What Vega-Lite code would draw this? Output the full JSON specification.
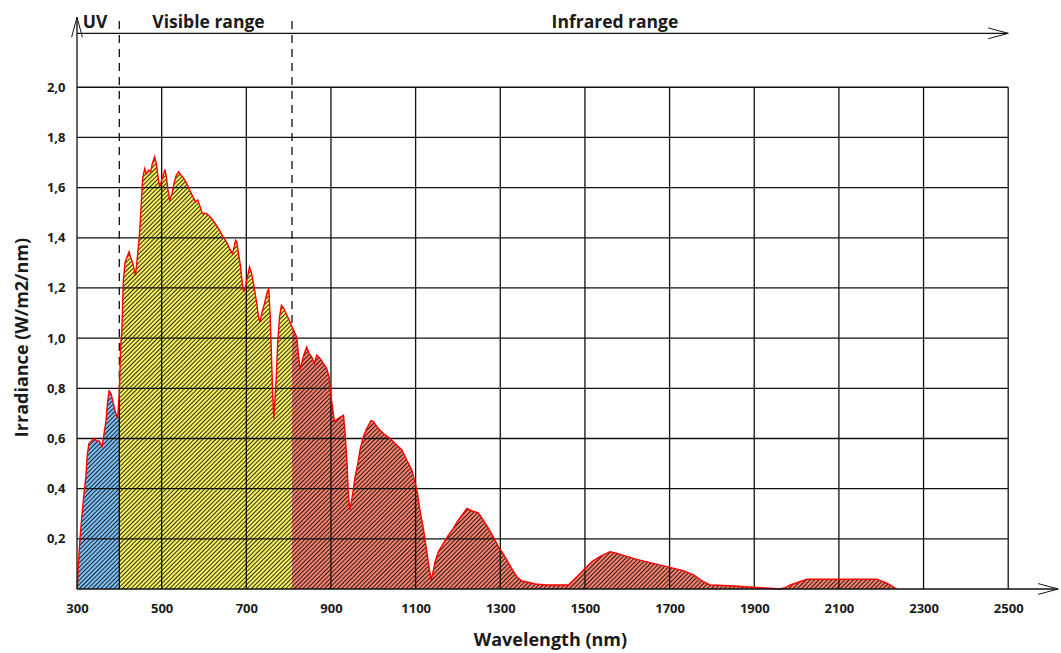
{
"$schema":"https://vega.github.io/schema/vega-lite/v6.json",
"width":982,"height":577,"autosize":"none",
"padding":{"left":77,"top":12,"right":2,"bottom":64},
"background":"white",
"config":{"view":{"stroke":null},
 "axis":{"domain":false,"ticks":false,"tickSize":0,"grid":false,"labelFont":"Open Sans","labelFontSize":13,"labelFontWeight":"bold","labelColor":"#1a1a1a","titleFont":"Open Sans","titleFontSize":18,"titleFontWeight":"bold","titleColor":"#1a1a1a","labelOverlap":false},
 "axisX":{"labelPadding":13,"labelFlush":false},
 "axisY":{"labelPadding":12}},
"datasets":{"spec":[
{"wl":300,"irr":0,"r":"uv"},{"wl":301,"irr":0.02,"r":"uv"},{"wl":303,"irr":0.09,"r":"uv"},{"wl":307,"irr":0.2,"r":"uv"},{"wl":312,"irr":0.3,"r":"uv"},{"wl":316.5,"irr":0.38,"r":"uv"},{"wl":321,"irr":0.45,"r":"uv"},{"wl":324,"irr":0.53,"r":"uv"},{"wl":328,"irr":0.58,"r":"uv"},{"wl":334.5,"irr":0.59,"r":"uv"},{"wl":340,"irr":0.6,"r":"uv"},{"wl":346.5,"irr":0.59,"r":"uv"},{"wl":352.5,"irr":0.59,"r":"uv"},{"wl":359,"irr":0.567,"r":"uv"},{"wl":364,"irr":0.62,"r":"uv"},{"wl":368.5,"irr":0.67,"r":"uv"},{"wl":372.5,"irr":0.75,"r":"uv"},{"wl":376,"irr":0.79,"r":"uv"},{"wl":380,"irr":0.78,"r":"uv"},{"wl":384.5,"irr":0.75,"r":"uv"},{"wl":390,"irr":0.71,"r":"uv"},{"wl":396,"irr":0.68,"r":"uv"},{"wl":400,"irr":0.78,"r":"uv"},
{"wl":400,"irr":0.78,"r":"vis"},{"wl":403,"irr":0.965,"r":"vis"},{"wl":406,"irr":1.03,"r":"vis"},{"wl":409.5,"irr":1.23,"r":"vis"},{"wl":413.5,"irr":1.3,"r":"vis"},{"wl":417.5,"irr":1.32,"r":"vis"},{"wl":423,"irr":1.344,"r":"vis"},{"wl":427,"irr":1.32,"r":"vis"},{"wl":431.5,"irr":1.3,"r":"vis"},{"wl":438,"irr":1.25,"r":"vis"},{"wl":442.5,"irr":1.32,"r":"vis"},{"wl":447,"irr":1.4,"r":"vis"},{"wl":451,"irr":1.51,"r":"vis"},{"wl":455,"irr":1.636,"r":"vis"},{"wl":460,"irr":1.676,"r":"vis"},{"wl":464,"irr":1.656,"r":"vis"},{"wl":469.5,"irr":1.67,"r":"vis"},{"wl":474,"irr":1.663,"r":"vis"},{"wl":478,"irr":1.696,"r":"vis"},{"wl":483.5,"irr":1.723,"r":"vis"},{"wl":487.5,"irr":1.696,"r":"vis"},{"wl":491.5,"irr":1.643,"r":"vis"},{"wl":495.5,"irr":1.603,"r":"vis"},{"wl":500,"irr":1.63,"r":"vis"},{"wl":505,"irr":1.656,"r":"vis"},{"wl":508,"irr":1.672,"r":"vis"},{"wl":511,"irr":1.643,"r":"vis"},{"wl":515,"irr":1.59,"r":"vis"},{"wl":519,"irr":1.55,"r":"vis"},{"wl":524.5,"irr":1.576,"r":"vis"},{"wl":529,"irr":1.616,"r":"vis"},{"wl":534.5,"irr":1.649,"r":"vis"},{"wl":540,"irr":1.663,"r":"vis"},{"wl":546.5,"irr":1.649,"r":"vis"},{"wl":552.5,"irr":1.636,"r":"vis"},{"wl":559.5,"irr":1.616,"r":"vis"},{"wl":566,"irr":1.59,"r":"vis"},{"wl":574,"irr":1.563,"r":"vis"},{"wl":580,"irr":1.543,"r":"vis"},{"wl":585.5,"irr":1.55,"r":"vis"},{"wl":589.5,"irr":1.53,"r":"vis"},{"wl":596,"irr":1.497,"r":"vis"},{"wl":605.5,"irr":1.497,"r":"vis"},{"wl":613,"irr":1.486,"r":"vis"},{"wl":621,"irr":1.47,"r":"vis"},{"wl":629,"irr":1.45,"r":"vis"},{"wl":637,"irr":1.43,"r":"vis"},{"wl":645,"irr":1.404,"r":"vis"},{"wl":653,"irr":1.384,"r":"vis"},{"wl":660.5,"irr":1.357,"r":"vis"},{"wl":667,"irr":1.337,"r":"vis"},{"wl":670.5,"irr":1.357,"r":"vis"},{"wl":674.5,"irr":1.39,"r":"vis"},{"wl":677.5,"irr":1.384,"r":"vis"},{"wl":681.5,"irr":1.337,"r":"vis"},{"wl":686.5,"irr":1.284,"r":"vis"},{"wl":690.5,"irr":1.218,"r":"vis"},{"wl":694,"irr":1.185,"r":"vis"},{"wl":698,"irr":1.205,"r":"vis"},{"wl":702,"irr":1.238,"r":"vis"},{"wl":707.5,"irr":1.284,"r":"vis"},{"wl":712.5,"irr":1.258,"r":"vis"},{"wl":717,"irr":1.218,"r":"vis"},{"wl":723.5,"irr":1.151,"r":"vis"},{"wl":729,"irr":1.085,"r":"vis"},{"wl":732,"irr":1.065,"r":"vis"},{"wl":737.5,"irr":1.105,"r":"vis"},{"wl":743,"irr":1.138,"r":"vis"},{"wl":748.5,"irr":1.178,"r":"vis"},{"wl":753,"irr":1.198,"r":"vis"},{"wl":756.5,"irr":1.085,"r":"vis"},{"wl":759.5,"irr":0.925,"r":"vis"},{"wl":762.5,"irr":0.766,"r":"vis"},{"wl":765,"irr":0.68,"r":"vis"},{"wl":767,"irr":0.74,"r":"vis"},{"wl":770.5,"irr":0.833,"r":"vis"},{"wl":774.5,"irr":0.992,"r":"vis"},{"wl":778.5,"irr":1.085,"r":"vis"},{"wl":783,"irr":1.131,"r":"vis"},{"wl":788.5,"irr":1.118,"r":"vis"},{"wl":794,"irr":1.098,"r":"vis"},{"wl":799.5,"irr":1.078,"r":"vis"},{"wl":804,"irr":1.061,"r":"vis"},{"wl":808,"irr":1.045,"r":"vis"},
{"wl":808,"irr":1.045,"r":"ir"},{"wl":819,"irr":1.005,"r":"ir"},{"wl":823,"irr":0.939,"r":"ir"},{"wl":827,"irr":0.873,"r":"ir"},{"wl":832.5,"irr":0.912,"r":"ir"},{"wl":837,"irr":0.939,"r":"ir"},{"wl":843,"irr":0.965,"r":"ir"},{"wl":848,"irr":0.939,"r":"ir"},{"wl":854.5,"irr":0.925,"r":"ir"},{"wl":861,"irr":0.899,"r":"ir"},{"wl":866.5,"irr":0.932,"r":"ir"},{"wl":874,"irr":0.919,"r":"ir"},{"wl":882,"irr":0.899,"r":"ir"},{"wl":890,"irr":0.879,"r":"ir"},{"wl":895.5,"irr":0.846,"r":"ir"},{"wl":898,"irr":0.793,"r":"ir"},{"wl":903.5,"irr":0.726,"r":"ir"},{"wl":908,"irr":0.667,"r":"ir"},{"wl":917.5,"irr":0.68,"r":"ir"},{"wl":929.5,"irr":0.693,"r":"ir"},{"wl":933.5,"irr":0.62,"r":"ir"},{"wl":938,"irr":0.5,"r":"ir"},{"wl":941,"irr":0.381,"r":"ir"},{"wl":944.5,"irr":0.315,"r":"ir"},{"wl":947.5,"irr":0.341,"r":"ir"},{"wl":951.5,"irr":0.381,"r":"ir"},{"wl":957,"irr":0.447,"r":"ir"},{"wl":963.5,"irr":0.5,"r":"ir"},{"wl":968.5,"irr":0.554,"r":"ir"},{"wl":976.5,"irr":0.607,"r":"ir"},{"wl":984.5,"irr":0.64,"r":"ir"},{"wl":994.5,"irr":0.671,"r":"ir"},{"wl":1000,"irr":0.667,"r":"ir"},{"wl":1012,"irr":0.64,"r":"ir"},{"wl":1024,"irr":0.62,"r":"ir"},{"wl":1039.5,"irr":0.6,"r":"ir"},{"wl":1055.5,"irr":0.574,"r":"ir"},{"wl":1067.5,"irr":0.554,"r":"ir"},{"wl":1079,"irr":0.514,"r":"ir"},{"wl":1091,"irr":0.474,"r":"ir"},{"wl":1098.5,"irr":0.427,"r":"ir"},{"wl":1104.5,"irr":0.381,"r":"ir"},{"wl":1110.5,"irr":0.31,"r":"ir"},{"wl":1117.5,"irr":0.25,"r":"ir"},{"wl":1124.5,"irr":0.17,"r":"ir"},{"wl":1130.5,"irr":0.1,"r":"ir"},{"wl":1136.5,"irr":0.036,"r":"ir"},{"wl":1140.5,"irr":0.063,"r":"ir"},{"wl":1146,"irr":0.109,"r":"ir"},{"wl":1154,"irr":0.149,"r":"ir"},{"wl":1165.5,"irr":0.182,"r":"ir"},{"wl":1177.5,"irr":0.215,"r":"ir"},{"wl":1189,"irr":0.242,"r":"ir"},{"wl":1201,"irr":0.275,"r":"ir"},{"wl":1213,"irr":0.302,"r":"ir"},{"wl":1221,"irr":0.321,"r":"ir"},{"wl":1232.5,"irr":0.312,"r":"ir"},{"wl":1248,"irr":0.304,"r":"ir"},{"wl":1260,"irr":0.275,"r":"ir"},{"wl":1272,"irr":0.242,"r":"ir"},{"wl":1283.5,"irr":0.208,"r":"ir"},{"wl":1295.5,"irr":0.169,"r":"ir"},{"wl":1303.5,"irr":0.149,"r":"ir"},{"wl":1315.5,"irr":0.116,"r":"ir"},{"wl":1327,"irr":0.082,"r":"ir"},{"wl":1339,"irr":0.049,"r":"ir"},{"wl":1351,"irr":0.032,"r":"ir"},{"wl":1366.5,"irr":0.027,"r":"ir"},{"wl":1382.5,"irr":0.02,"r":"ir"},{"wl":1410,"irr":0.016,"r":"ir"},{"wl":1461,"irr":0.016,"r":"ir"},{"wl":1481,"irr":0.049,"r":"ir"},{"wl":1500.5,"irr":0.082,"r":"ir"},{"wl":1516.5,"irr":0.109,"r":"ir"},{"wl":1536,"irr":0.13,"r":"ir"},{"wl":1559.5,"irr":0.149,"r":"ir"},{"wl":1575.5,"irr":0.142,"r":"ir"},{"wl":1622.5,"irr":0.118,"r":"ir"},{"wl":1654,"irr":0.105,"r":"ir"},{"wl":1693.5,"irr":0.089,"r":"ir"},{"wl":1732.5,"irr":0.073,"r":"ir"},{"wl":1756.5,"irr":0.056,"r":"ir"},{"wl":1780,"irr":0.029,"r":"ir"},{"wl":1796,"irr":0.016,"r":"ir"},{"wl":1843,"irr":0.013,"r":"ir"},{"wl":1898,"irr":0.007,"r":"ir"},{"wl":1961,"irr":0,"r":"ir"},{"wl":1973,"irr":0.005,"r":"ir"},{"wl":1985,"irr":0.016,"r":"ir"},{"wl":2024.5,"irr":0.039,"r":"ir"},{"wl":2189.5,"irr":0.039,"r":"ir"},{"wl":2213.5,"irr":0.023,"r":"ir"},{"wl":2237,"irr":0,"r":"ir"}
]},
"layer":[
{"data":{"values":[{"d":400},{"d":808}]},"mark":{"type":"rule","strokeDash":[8,6],"color":"#111","strokeWidth":1.3},
 "encoding":{"x":{"field":"d","type":"quantitative"},"y":{"datum":0,"type":"quantitative"},"y2":{"datum":2.28}}},
{"data":{"name":"spec"},"mark":{"type":"area","opacity":1},
 "encoding":{
  "x":{"field":"wl","type":"quantitative","scale":{"domain":[300,2620],"nice":false,"zero":false},
   "axis":{"values":[300,500,700,900,1100,1300,1500,1700,1900,2100,2300,2500],"format":"d","domain":false,"ticks":false,"grid":false,"labelPadding":13,
    "title":"Wavelength (nm)","titleX":473,"titleY":56,"titleBaseline":"alphabetic","titleAlign":"center"}},
  "y":{"field":"irr","type":"quantitative","stack":null,"scale":{"domain":[0,2.3],"nice":false,"zero":false},
   "axis":{"values":[0.2,0.4,0.6,0.8,1.0,1.2,1.4,1.6,1.8,2.0],"domain":false,"ticks":false,"grid":false,"labelPadding":12,"labelExpr":"replace(format(datum.value,'.1f'),'.',',')",
    "title":"Irradiance (W/m2/nm)","titleX":-50,"titleY":325,"titleAngle":-90,"titleBaseline":"alphabetic","titleAlign":"center"}},
  "color":{"field":"r","type":"nominal","scale":{"domain":["uv","vis","ir"],"range":["#7fbff5","#f7f264","#f4826f"]},"legend":null}}},
{"data":{"name":"spec"},"mark":{"type":"area","fillOpacity":0.8,"fill":{"gradient":"linear","x1":0,"y1":0,"x2":1.36774,"y2":0.72098,"stops":[
{"offset":0,"color":"#000"},{"offset":0.001,"color":"transparent"},{"offset":0.002,"color":"transparent"},{"offset":0.003,"color":"#000"},{"offset":0.004,"color":"transparent"},{"offset":0.005,"color":"transparent"},{"offset":0.006,"color":"#000"},{"offset":0.007,"color":"transparent"},{"offset":0.008,"color":"transparent"},{"offset":0.009,"color":"#000"},{"offset":0.01,"color":"transparent"},{"offset":0.011,"color":"transparent"},{"offset":0.012,"color":"#000"},{"offset":0.013,"color":"transparent"},{"offset":0.014,"color":"transparent"},{"offset":0.015,"color":"#000"},{"offset":0.016,"color":"transparent"},{"offset":0.017,"color":"transparent"},{"offset":0.018,"color":"#000"},{"offset":0.019,"color":"transparent"},{"offset":0.02,"color":"transparent"},{"offset":0.021,"color":"#000"},{"offset":0.022,"color":"transparent"},{"offset":0.023,"color":"transparent"},{"offset":0.024,"color":"#000"},{"offset":0.025,"color":"transparent"},{"offset":0.026,"color":"transparent"},{"offset":0.027,"color":"#000"},{"offset":0.028,"color":"transparent"},{"offset":0.029,"color":"transparent"},
{"offset":0.03,"color":"#000"},{"offset":0.031,"color":"transparent"},{"offset":0.032,"color":"transparent"},{"offset":0.033,"color":"#000"},{"offset":0.034,"color":"transparent"},{"offset":0.035,"color":"transparent"},{"offset":0.036,"color":"#000"},{"offset":0.037,"color":"transparent"},{"offset":0.038,"color":"transparent"},{"offset":0.039,"color":"#000"},{"offset":0.04,"color":"transparent"},{"offset":0.041,"color":"transparent"},{"offset":0.042,"color":"#000"},{"offset":0.043,"color":"transparent"},{"offset":0.044,"color":"transparent"},{"offset":0.045,"color":"#000"},{"offset":0.046,"color":"transparent"},{"offset":0.047,"color":"transparent"},{"offset":0.048,"color":"#000"},{"offset":0.049,"color":"transparent"},{"offset":0.05,"color":"transparent"},{"offset":0.051,"color":"#000"},{"offset":0.052,"color":"transparent"},{"offset":0.053,"color":"transparent"},{"offset":0.054,"color":"#000"},{"offset":0.055,"color":"transparent"},{"offset":0.056,"color":"transparent"},{"offset":0.057,"color":"#000"},{"offset":0.058,"color":"transparent"},{"offset":0.059,"color":"transparent"},
{"offset":0.06,"color":"#000"},{"offset":0.061,"color":"transparent"},{"offset":0.062,"color":"transparent"},{"offset":0.063,"color":"#000"},{"offset":0.064,"color":"transparent"},{"offset":0.065,"color":"transparent"},{"offset":0.066,"color":"#000"},{"offset":0.067,"color":"transparent"},{"offset":0.068,"color":"transparent"},{"offset":0.069,"color":"#000"},{"offset":0.07,"color":"transparent"},{"offset":0.071,"color":"transparent"},{"offset":0.072,"color":"#000"},{"offset":0.073,"color":"transparent"},{"offset":0.074,"color":"transparent"},{"offset":0.075,"color":"#000"},{"offset":0.076,"color":"transparent"},{"offset":0.077,"color":"transparent"},{"offset":0.078,"color":"#000"},{"offset":0.079,"color":"transparent"},{"offset":0.08,"color":"transparent"},{"offset":0.081,"color":"#000"},{"offset":0.082,"color":"transparent"},{"offset":0.083,"color":"transparent"},{"offset":0.084,"color":"#000"},{"offset":0.085,"color":"transparent"},{"offset":0.086,"color":"transparent"},{"offset":0.087,"color":"#000"},{"offset":0.088,"color":"transparent"},{"offset":0.089,"color":"transparent"},
{"offset":0.09,"color":"#000"},{"offset":0.091,"color":"transparent"},{"offset":0.092,"color":"transparent"},{"offset":0.093,"color":"#000"},{"offset":0.094,"color":"transparent"},{"offset":0.095,"color":"transparent"},{"offset":0.096,"color":"#000"},{"offset":0.097,"color":"transparent"},{"offset":0.098,"color":"transparent"},{"offset":0.099,"color":"#000"},{"offset":0.1,"color":"transparent"},{"offset":0.101,"color":"transparent"},{"offset":0.102,"color":"#000"},{"offset":0.103,"color":"transparent"},{"offset":0.104,"color":"transparent"},{"offset":0.105,"color":"#000"},{"offset":0.106,"color":"transparent"},{"offset":0.107,"color":"transparent"},{"offset":0.108,"color":"#000"},{"offset":0.109,"color":"transparent"},{"offset":0.11,"color":"transparent"},{"offset":0.111,"color":"#000"},{"offset":0.112,"color":"transparent"},{"offset":0.113,"color":"transparent"},{"offset":0.114,"color":"#000"},{"offset":0.115,"color":"transparent"},{"offset":0.116,"color":"transparent"},{"offset":0.117,"color":"#000"},{"offset":0.118,"color":"transparent"},{"offset":0.119,"color":"transparent"},
{"offset":0.12,"color":"#000"},{"offset":0.121,"color":"transparent"},{"offset":0.122,"color":"transparent"},{"offset":0.123,"color":"#000"},{"offset":0.124,"color":"transparent"},{"offset":0.125,"color":"transparent"},{"offset":0.126,"color":"#000"},{"offset":0.127,"color":"transparent"},{"offset":0.128,"color":"transparent"},{"offset":0.129,"color":"#000"},{"offset":0.13,"color":"transparent"},{"offset":0.131,"color":"transparent"},{"offset":0.132,"color":"#000"},{"offset":0.133,"color":"transparent"},{"offset":0.134,"color":"transparent"},{"offset":0.135,"color":"#000"},{"offset":0.136,"color":"transparent"},{"offset":0.137,"color":"transparent"},{"offset":0.138,"color":"#000"},{"offset":0.139,"color":"transparent"},{"offset":0.14,"color":"transparent"},{"offset":0.141,"color":"#000"},{"offset":0.142,"color":"transparent"},{"offset":0.143,"color":"transparent"},{"offset":0.144,"color":"#000"},{"offset":0.145,"color":"transparent"},{"offset":0.146,"color":"transparent"},{"offset":0.147,"color":"#000"},{"offset":0.148,"color":"transparent"},{"offset":0.149,"color":"transparent"},
{"offset":0.15,"color":"#000"},{"offset":0.151,"color":"transparent"},{"offset":0.152,"color":"transparent"},{"offset":0.153,"color":"#000"},{"offset":0.154,"color":"transparent"},{"offset":0.155,"color":"transparent"},{"offset":0.156,"color":"#000"},{"offset":0.157,"color":"transparent"},{"offset":0.158,"color":"transparent"},{"offset":0.159,"color":"#000"},{"offset":0.16,"color":"transparent"},{"offset":0.161,"color":"transparent"},{"offset":0.162,"color":"#000"},{"offset":0.163,"color":"transparent"},{"offset":0.164,"color":"transparent"},{"offset":0.165,"color":"#000"},{"offset":0.166,"color":"transparent"},{"offset":0.167,"color":"transparent"},{"offset":0.168,"color":"#000"},{"offset":0.169,"color":"transparent"},{"offset":0.17,"color":"transparent"},{"offset":0.171,"color":"#000"},{"offset":0.172,"color":"transparent"},{"offset":0.173,"color":"transparent"},{"offset":0.174,"color":"#000"},{"offset":0.175,"color":"transparent"},{"offset":0.176,"color":"transparent"},{"offset":0.177,"color":"#000"},{"offset":0.178,"color":"transparent"},{"offset":0.179,"color":"transparent"},
{"offset":0.18,"color":"#000"},{"offset":0.181,"color":"transparent"},{"offset":0.182,"color":"transparent"},{"offset":0.183,"color":"#000"},{"offset":0.184,"color":"transparent"},{"offset":0.185,"color":"transparent"},{"offset":0.186,"color":"#000"},{"offset":0.187,"color":"transparent"},{"offset":0.188,"color":"transparent"},{"offset":0.189,"color":"#000"},{"offset":0.19,"color":"transparent"},{"offset":0.191,"color":"transparent"},{"offset":0.192,"color":"#000"},{"offset":0.193,"color":"transparent"},{"offset":0.194,"color":"transparent"},{"offset":0.195,"color":"#000"},{"offset":0.196,"color":"transparent"},{"offset":0.197,"color":"transparent"},{"offset":0.198,"color":"#000"},{"offset":0.199,"color":"transparent"},{"offset":0.2,"color":"transparent"},{"offset":0.201,"color":"#000"},{"offset":0.202,"color":"transparent"},{"offset":0.203,"color":"transparent"},{"offset":0.204,"color":"#000"},{"offset":0.205,"color":"transparent"},{"offset":0.206,"color":"transparent"},{"offset":0.207,"color":"#000"},{"offset":0.208,"color":"transparent"},{"offset":0.209,"color":"transparent"},
{"offset":0.21,"color":"#000"},{"offset":0.211,"color":"transparent"},{"offset":0.212,"color":"transparent"},{"offset":0.213,"color":"#000"},{"offset":0.214,"color":"transparent"},{"offset":0.215,"color":"transparent"},{"offset":0.216,"color":"#000"},{"offset":0.217,"color":"transparent"},{"offset":0.218,"color":"transparent"},{"offset":0.219,"color":"#000"},{"offset":0.22,"color":"transparent"},{"offset":0.221,"color":"transparent"},{"offset":0.222,"color":"#000"},{"offset":0.223,"color":"transparent"},{"offset":0.224,"color":"transparent"},{"offset":0.225,"color":"#000"},{"offset":0.226,"color":"transparent"},{"offset":0.227,"color":"transparent"},{"offset":0.228,"color":"#000"},{"offset":0.229,"color":"transparent"},{"offset":0.23,"color":"transparent"},{"offset":0.231,"color":"#000"},{"offset":0.232,"color":"transparent"},{"offset":0.233,"color":"transparent"},{"offset":0.234,"color":"#000"},{"offset":0.235,"color":"transparent"},{"offset":0.236,"color":"transparent"},{"offset":0.237,"color":"#000"},{"offset":0.238,"color":"transparent"},{"offset":0.239,"color":"transparent"},
{"offset":0.24,"color":"#000"},{"offset":0.241,"color":"transparent"},{"offset":0.242,"color":"transparent"},{"offset":0.243,"color":"#000"},{"offset":0.244,"color":"transparent"},{"offset":0.245,"color":"transparent"},{"offset":0.246,"color":"#000"},{"offset":0.247,"color":"transparent"},{"offset":0.248,"color":"transparent"},{"offset":0.249,"color":"#000"},{"offset":0.25,"color":"transparent"},{"offset":0.251,"color":"transparent"},{"offset":0.252,"color":"#000"},{"offset":0.253,"color":"transparent"},{"offset":0.254,"color":"transparent"},{"offset":0.255,"color":"#000"},{"offset":0.256,"color":"transparent"},{"offset":0.257,"color":"transparent"},{"offset":0.258,"color":"#000"},{"offset":0.259,"color":"transparent"},{"offset":0.26,"color":"transparent"},{"offset":0.261,"color":"#000"},{"offset":0.262,"color":"transparent"},{"offset":0.263,"color":"transparent"},{"offset":0.264,"color":"#000"},{"offset":0.265,"color":"transparent"},{"offset":0.266,"color":"transparent"},{"offset":0.267,"color":"#000"},{"offset":0.268,"color":"transparent"},{"offset":0.269,"color":"transparent"},
{"offset":0.27,"color":"#000"},{"offset":0.271,"color":"transparent"},{"offset":0.272,"color":"transparent"},{"offset":0.273,"color":"#000"},{"offset":0.274,"color":"transparent"},{"offset":0.275,"color":"transparent"},{"offset":0.276,"color":"#000"},{"offset":0.277,"color":"transparent"},{"offset":0.278,"color":"transparent"},{"offset":0.279,"color":"#000"},{"offset":0.28,"color":"transparent"},{"offset":0.281,"color":"transparent"},{"offset":0.282,"color":"#000"},{"offset":0.283,"color":"transparent"},{"offset":0.284,"color":"transparent"},{"offset":0.285,"color":"#000"},{"offset":0.286,"color":"transparent"},{"offset":0.287,"color":"transparent"},{"offset":0.288,"color":"#000"},{"offset":0.289,"color":"transparent"},{"offset":0.29,"color":"transparent"},{"offset":0.291,"color":"#000"},{"offset":0.292,"color":"transparent"},{"offset":0.293,"color":"transparent"},{"offset":0.294,"color":"#000"},{"offset":0.295,"color":"transparent"},{"offset":0.296,"color":"transparent"},{"offset":0.297,"color":"#000"},{"offset":0.298,"color":"transparent"},{"offset":0.299,"color":"transparent"},
{"offset":0.3,"color":"#000"},{"offset":0.301,"color":"transparent"},{"offset":0.302,"color":"transparent"},{"offset":0.303,"color":"#000"},{"offset":0.304,"color":"transparent"},{"offset":0.305,"color":"transparent"},{"offset":0.306,"color":"#000"},{"offset":0.307,"color":"transparent"},{"offset":0.308,"color":"transparent"},{"offset":0.309,"color":"#000"},{"offset":0.31,"color":"transparent"},{"offset":0.311,"color":"transparent"},{"offset":0.312,"color":"#000"},{"offset":0.313,"color":"transparent"},{"offset":0.314,"color":"transparent"},{"offset":0.315,"color":"#000"},{"offset":0.316,"color":"transparent"},{"offset":0.317,"color":"transparent"},{"offset":0.318,"color":"#000"},{"offset":0.319,"color":"transparent"},{"offset":0.32,"color":"transparent"},{"offset":0.321,"color":"#000"},{"offset":0.322,"color":"transparent"},{"offset":0.323,"color":"transparent"},{"offset":0.324,"color":"#000"},{"offset":0.325,"color":"transparent"},{"offset":0.326,"color":"transparent"},{"offset":0.327,"color":"#000"},{"offset":0.328,"color":"transparent"},{"offset":0.329,"color":"transparent"},
{"offset":0.33,"color":"#000"},{"offset":0.331,"color":"transparent"},{"offset":0.332,"color":"transparent"},{"offset":0.333,"color":"#000"},{"offset":0.334,"color":"transparent"},{"offset":0.335,"color":"transparent"},{"offset":0.336,"color":"#000"},{"offset":0.337,"color":"transparent"},{"offset":0.338,"color":"transparent"},{"offset":0.339,"color":"#000"},{"offset":0.34,"color":"transparent"},{"offset":0.341,"color":"transparent"},{"offset":0.342,"color":"#000"},{"offset":0.343,"color":"transparent"},{"offset":0.344,"color":"transparent"},{"offset":0.345,"color":"#000"},{"offset":0.346,"color":"transparent"},{"offset":0.347,"color":"transparent"},{"offset":0.348,"color":"#000"},{"offset":0.349,"color":"transparent"},{"offset":0.35,"color":"transparent"},{"offset":0.351,"color":"#000"},{"offset":0.352,"color":"transparent"},{"offset":0.353,"color":"transparent"},{"offset":0.354,"color":"#000"},{"offset":0.355,"color":"transparent"},{"offset":0.356,"color":"transparent"},{"offset":0.357,"color":"#000"},{"offset":0.358,"color":"transparent"},{"offset":0.359,"color":"transparent"},
{"offset":0.36,"color":"#000"},{"offset":0.361,"color":"transparent"},{"offset":0.362,"color":"transparent"},{"offset":0.363,"color":"#000"},{"offset":0.364,"color":"transparent"},{"offset":0.365,"color":"transparent"},{"offset":0.366,"color":"#000"},{"offset":0.367,"color":"transparent"},{"offset":0.368,"color":"transparent"},{"offset":0.369,"color":"#000"},{"offset":0.37,"color":"transparent"},{"offset":0.371,"color":"transparent"},{"offset":0.372,"color":"#000"},{"offset":0.373,"color":"transparent"},{"offset":0.374,"color":"transparent"},{"offset":0.375,"color":"#000"},{"offset":0.376,"color":"transparent"},{"offset":0.377,"color":"transparent"},{"offset":0.378,"color":"#000"},{"offset":0.379,"color":"transparent"},{"offset":0.38,"color":"transparent"},{"offset":0.381,"color":"#000"},{"offset":0.382,"color":"transparent"},{"offset":0.383,"color":"transparent"},{"offset":0.384,"color":"#000"},{"offset":0.385,"color":"transparent"},{"offset":0.386,"color":"transparent"},{"offset":0.387,"color":"#000"},{"offset":0.388,"color":"transparent"},{"offset":0.389,"color":"transparent"},
{"offset":0.39,"color":"#000"},{"offset":0.391,"color":"transparent"},{"offset":0.392,"color":"transparent"},{"offset":0.393,"color":"#000"},{"offset":0.394,"color":"transparent"},{"offset":0.395,"color":"transparent"},{"offset":0.396,"color":"#000"},{"offset":0.397,"color":"transparent"},{"offset":0.398,"color":"transparent"},{"offset":0.399,"color":"#000"},{"offset":0.4,"color":"transparent"},{"offset":0.401,"color":"transparent"},{"offset":0.402,"color":"#000"},{"offset":0.403,"color":"transparent"},{"offset":0.404,"color":"transparent"},{"offset":0.405,"color":"#000"},{"offset":0.406,"color":"transparent"},{"offset":0.407,"color":"transparent"},{"offset":0.408,"color":"#000"},{"offset":0.409,"color":"transparent"},{"offset":0.41,"color":"transparent"},{"offset":0.411,"color":"#000"},{"offset":0.412,"color":"transparent"},{"offset":0.413,"color":"transparent"},{"offset":0.414,"color":"#000"},{"offset":0.415,"color":"transparent"},{"offset":0.416,"color":"transparent"},{"offset":0.417,"color":"#000"},{"offset":0.418,"color":"transparent"},{"offset":0.419,"color":"transparent"},
{"offset":0.42,"color":"#000"},{"offset":0.421,"color":"transparent"},{"offset":0.422,"color":"transparent"},{"offset":0.423,"color":"#000"},{"offset":0.424,"color":"transparent"},{"offset":0.425,"color":"transparent"},{"offset":0.426,"color":"#000"},{"offset":0.427,"color":"transparent"},{"offset":0.428,"color":"transparent"},{"offset":0.429,"color":"#000"},{"offset":0.43,"color":"transparent"},{"offset":0.431,"color":"transparent"},{"offset":0.432,"color":"#000"},{"offset":0.433,"color":"transparent"},{"offset":0.434,"color":"transparent"},{"offset":0.435,"color":"#000"},{"offset":0.436,"color":"transparent"},{"offset":0.437,"color":"transparent"},{"offset":0.438,"color":"#000"},{"offset":0.439,"color":"transparent"},{"offset":0.44,"color":"transparent"},{"offset":0.441,"color":"#000"},{"offset":0.442,"color":"transparent"},{"offset":0.443,"color":"transparent"},{"offset":0.444,"color":"#000"},{"offset":0.445,"color":"transparent"},{"offset":0.446,"color":"transparent"},{"offset":0.447,"color":"#000"},{"offset":0.448,"color":"transparent"},{"offset":0.449,"color":"transparent"},
{"offset":0.45,"color":"#000"},{"offset":0.451,"color":"transparent"},{"offset":0.452,"color":"transparent"},{"offset":0.453,"color":"#000"},{"offset":0.454,"color":"transparent"},{"offset":0.455,"color":"transparent"},{"offset":0.456,"color":"#000"},{"offset":0.457,"color":"transparent"},{"offset":0.458,"color":"transparent"},{"offset":0.459,"color":"#000"},{"offset":0.46,"color":"transparent"},{"offset":0.461,"color":"transparent"},{"offset":0.462,"color":"#000"},{"offset":0.463,"color":"transparent"},{"offset":0.464,"color":"transparent"},{"offset":0.465,"color":"#000"},{"offset":0.466,"color":"transparent"},{"offset":0.467,"color":"transparent"},{"offset":0.468,"color":"#000"},{"offset":0.469,"color":"transparent"},{"offset":0.47,"color":"transparent"},{"offset":0.471,"color":"#000"},{"offset":0.472,"color":"transparent"},{"offset":0.473,"color":"transparent"},{"offset":0.474,"color":"#000"},{"offset":0.475,"color":"transparent"},{"offset":0.476,"color":"transparent"},{"offset":0.477,"color":"#000"},{"offset":0.478,"color":"transparent"},{"offset":0.479,"color":"transparent"},
{"offset":0.48,"color":"#000"},{"offset":0.481,"color":"transparent"},{"offset":0.482,"color":"transparent"},{"offset":0.483,"color":"#000"},{"offset":0.484,"color":"transparent"},{"offset":0.485,"color":"transparent"},{"offset":0.486,"color":"#000"},{"offset":0.487,"color":"transparent"},{"offset":0.488,"color":"transparent"},{"offset":0.489,"color":"#000"},{"offset":0.49,"color":"transparent"},{"offset":0.491,"color":"transparent"},{"offset":0.492,"color":"#000"},{"offset":0.493,"color":"transparent"},{"offset":0.494,"color":"transparent"},{"offset":0.495,"color":"#000"},{"offset":0.496,"color":"transparent"},{"offset":0.497,"color":"transparent"},{"offset":0.498,"color":"#000"},{"offset":0.499,"color":"transparent"},{"offset":0.5,"color":"transparent"},{"offset":0.501,"color":"#000"},{"offset":0.502,"color":"transparent"},{"offset":0.503,"color":"transparent"},{"offset":0.504,"color":"#000"},{"offset":0.505,"color":"transparent"},{"offset":0.506,"color":"transparent"},{"offset":0.507,"color":"#000"},{"offset":0.508,"color":"transparent"},{"offset":0.509,"color":"transparent"},
{"offset":0.51,"color":"#000"},{"offset":0.511,"color":"transparent"},{"offset":0.512,"color":"transparent"},{"offset":0.513,"color":"#000"},{"offset":0.514,"color":"transparent"},{"offset":0.515,"color":"transparent"},{"offset":0.516,"color":"#000"},{"offset":0.517,"color":"transparent"},{"offset":0.518,"color":"transparent"},{"offset":0.519,"color":"#000"},{"offset":0.52,"color":"transparent"},{"offset":0.521,"color":"transparent"},{"offset":0.522,"color":"#000"},{"offset":0.523,"color":"transparent"},{"offset":0.524,"color":"transparent"},{"offset":0.525,"color":"#000"},{"offset":0.526,"color":"transparent"},{"offset":0.527,"color":"transparent"},{"offset":0.528,"color":"#000"},{"offset":0.529,"color":"transparent"},{"offset":0.53,"color":"transparent"},{"offset":0.531,"color":"#000"},{"offset":0.532,"color":"transparent"},{"offset":0.533,"color":"transparent"},{"offset":0.534,"color":"#000"},{"offset":0.535,"color":"transparent"},{"offset":0.536,"color":"transparent"},{"offset":0.537,"color":"#000"},{"offset":0.538,"color":"transparent"},{"offset":0.539,"color":"transparent"},
{"offset":0.54,"color":"#000"},{"offset":0.541,"color":"transparent"},{"offset":0.542,"color":"transparent"},{"offset":0.543,"color":"#000"},{"offset":0.544,"color":"transparent"},{"offset":0.545,"color":"transparent"},{"offset":0.546,"color":"#000"},{"offset":0.547,"color":"transparent"},{"offset":0.548,"color":"transparent"},{"offset":0.549,"color":"#000"},{"offset":0.55,"color":"transparent"},{"offset":0.551,"color":"transparent"},{"offset":0.552,"color":"#000"},{"offset":0.553,"color":"transparent"},{"offset":0.554,"color":"transparent"},{"offset":0.555,"color":"#000"},{"offset":0.556,"color":"transparent"},{"offset":0.557,"color":"transparent"},{"offset":0.558,"color":"#000"},{"offset":0.559,"color":"transparent"},{"offset":0.56,"color":"transparent"},{"offset":0.561,"color":"#000"},{"offset":0.562,"color":"transparent"},{"offset":0.563,"color":"transparent"},{"offset":0.564,"color":"#000"},{"offset":0.565,"color":"transparent"},{"offset":0.566,"color":"transparent"},{"offset":0.567,"color":"#000"},{"offset":0.568,"color":"transparent"},{"offset":0.569,"color":"transparent"},
{"offset":0.57,"color":"#000"},{"offset":0.571,"color":"transparent"},{"offset":0.572,"color":"transparent"},{"offset":0.573,"color":"#000"},{"offset":0.574,"color":"transparent"},{"offset":0.575,"color":"transparent"},{"offset":0.576,"color":"#000"},{"offset":0.577,"color":"transparent"},{"offset":0.578,"color":"transparent"},{"offset":0.579,"color":"#000"},{"offset":0.58,"color":"transparent"},{"offset":0.581,"color":"transparent"},{"offset":0.582,"color":"#000"},{"offset":0.583,"color":"transparent"},{"offset":0.584,"color":"transparent"},{"offset":0.585,"color":"#000"},{"offset":0.586,"color":"transparent"},{"offset":0.587,"color":"transparent"},{"offset":0.588,"color":"#000"},{"offset":0.589,"color":"transparent"},{"offset":0.59,"color":"transparent"},{"offset":0.591,"color":"#000"},{"offset":0.592,"color":"transparent"},{"offset":0.593,"color":"transparent"},{"offset":0.594,"color":"#000"},{"offset":0.595,"color":"transparent"},{"offset":0.596,"color":"transparent"},{"offset":0.597,"color":"#000"},{"offset":0.598,"color":"transparent"},{"offset":0.599,"color":"transparent"},
{"offset":0.6,"color":"#000"},{"offset":0.601,"color":"transparent"},{"offset":0.602,"color":"transparent"},{"offset":0.603,"color":"#000"},{"offset":0.604,"color":"transparent"},{"offset":0.605,"color":"transparent"},{"offset":0.606,"color":"#000"},{"offset":0.607,"color":"transparent"},{"offset":0.608,"color":"transparent"},{"offset":0.609,"color":"#000"},{"offset":0.61,"color":"transparent"},{"offset":0.611,"color":"transparent"},{"offset":0.612,"color":"#000"},{"offset":0.613,"color":"transparent"},{"offset":0.614,"color":"transparent"},{"offset":0.615,"color":"#000"},{"offset":0.616,"color":"transparent"},{"offset":0.617,"color":"transparent"},{"offset":0.618,"color":"#000"},{"offset":0.619,"color":"transparent"},{"offset":0.62,"color":"transparent"},{"offset":0.621,"color":"#000"},{"offset":0.622,"color":"transparent"},{"offset":0.623,"color":"transparent"},{"offset":0.624,"color":"#000"},{"offset":0.625,"color":"transparent"},{"offset":0.626,"color":"transparent"},{"offset":0.627,"color":"#000"},{"offset":0.628,"color":"transparent"},{"offset":0.629,"color":"transparent"},
{"offset":0.63,"color":"#000"},{"offset":0.631,"color":"transparent"},{"offset":0.632,"color":"transparent"},{"offset":0.633,"color":"#000"},{"offset":0.634,"color":"transparent"},{"offset":0.635,"color":"transparent"},{"offset":0.636,"color":"#000"},{"offset":0.637,"color":"transparent"},{"offset":0.638,"color":"transparent"},{"offset":0.639,"color":"#000"},{"offset":0.64,"color":"transparent"},{"offset":0.641,"color":"transparent"},{"offset":0.642,"color":"#000"},{"offset":0.643,"color":"transparent"},{"offset":0.644,"color":"transparent"},{"offset":0.645,"color":"#000"},{"offset":0.646,"color":"transparent"},{"offset":0.647,"color":"transparent"},{"offset":0.648,"color":"#000"},{"offset":0.649,"color":"transparent"},{"offset":0.65,"color":"transparent"},{"offset":0.651,"color":"#000"},{"offset":0.652,"color":"transparent"},{"offset":0.653,"color":"transparent"},{"offset":0.654,"color":"#000"},{"offset":0.655,"color":"transparent"},{"offset":0.656,"color":"transparent"},{"offset":0.657,"color":"#000"},{"offset":0.658,"color":"transparent"},{"offset":0.659,"color":"transparent"},
{"offset":0.66,"color":"#000"},{"offset":0.661,"color":"transparent"},{"offset":0.662,"color":"transparent"},{"offset":0.663,"color":"#000"},{"offset":0.664,"color":"transparent"},{"offset":0.665,"color":"transparent"},{"offset":0.666,"color":"#000"},{"offset":0.667,"color":"transparent"},{"offset":0.668,"color":"transparent"},{"offset":0.669,"color":"#000"},{"offset":0.67,"color":"transparent"},{"offset":0.671,"color":"transparent"},{"offset":0.672,"color":"#000"},{"offset":0.673,"color":"transparent"},{"offset":0.674,"color":"transparent"},{"offset":0.675,"color":"#000"},{"offset":0.676,"color":"transparent"},{"offset":0.677,"color":"transparent"},{"offset":0.678,"color":"#000"},{"offset":0.679,"color":"transparent"},{"offset":0.68,"color":"transparent"},{"offset":0.681,"color":"#000"},{"offset":0.682,"color":"transparent"},{"offset":0.683,"color":"transparent"},{"offset":0.684,"color":"#000"},{"offset":0.685,"color":"transparent"},{"offset":0.686,"color":"transparent"},{"offset":0.687,"color":"#000"},{"offset":0.688,"color":"transparent"},{"offset":0.689,"color":"transparent"},
{"offset":0.69,"color":"#000"},{"offset":0.691,"color":"transparent"},{"offset":0.692,"color":"transparent"},{"offset":0.693,"color":"#000"},{"offset":0.694,"color":"transparent"},{"offset":0.695,"color":"transparent"},{"offset":0.696,"color":"#000"},{"offset":0.697,"color":"transparent"},{"offset":0.698,"color":"transparent"},{"offset":0.699,"color":"#000"},{"offset":0.7,"color":"transparent"},{"offset":0.701,"color":"transparent"},{"offset":0.702,"color":"#000"},{"offset":0.703,"color":"transparent"},{"offset":0.704,"color":"transparent"},{"offset":0.705,"color":"#000"},{"offset":0.706,"color":"transparent"},{"offset":0.707,"color":"transparent"},{"offset":0.708,"color":"#000"},{"offset":0.709,"color":"transparent"},{"offset":0.71,"color":"transparent"},{"offset":0.711,"color":"#000"},{"offset":0.712,"color":"transparent"},{"offset":0.713,"color":"transparent"},{"offset":0.714,"color":"#000"},{"offset":0.715,"color":"transparent"},{"offset":0.716,"color":"transparent"},{"offset":0.717,"color":"#000"},{"offset":0.718,"color":"transparent"},{"offset":0.719,"color":"transparent"},
{"offset":0.72,"color":"#000"},{"offset":0.721,"color":"transparent"},{"offset":0.722,"color":"transparent"},{"offset":0.723,"color":"#000"},{"offset":0.724,"color":"transparent"},{"offset":0.725,"color":"transparent"},{"offset":0.726,"color":"#000"},{"offset":0.727,"color":"transparent"},{"offset":0.728,"color":"transparent"},{"offset":0.729,"color":"#000"},{"offset":0.73,"color":"transparent"},{"offset":0.731,"color":"transparent"},{"offset":0.732,"color":"#000"},{"offset":0.733,"color":"transparent"},{"offset":0.734,"color":"transparent"},{"offset":0.735,"color":"#000"},{"offset":0.736,"color":"transparent"},{"offset":0.737,"color":"transparent"},{"offset":0.738,"color":"#000"},{"offset":0.739,"color":"transparent"},{"offset":0.74,"color":"transparent"},{"offset":0.741,"color":"#000"},{"offset":0.742,"color":"transparent"},{"offset":0.743,"color":"transparent"},{"offset":0.744,"color":"#000"},{"offset":0.745,"color":"transparent"},{"offset":0.746,"color":"transparent"},{"offset":0.747,"color":"#000"},{"offset":0.748,"color":"transparent"},{"offset":0.749,"color":"transparent"},
{"offset":0.75,"color":"#000"},{"offset":0.751,"color":"transparent"},{"offset":0.752,"color":"transparent"},{"offset":0.753,"color":"#000"},{"offset":0.754,"color":"transparent"},{"offset":0.755,"color":"transparent"},{"offset":0.756,"color":"#000"},{"offset":0.757,"color":"transparent"},{"offset":0.758,"color":"transparent"},{"offset":0.759,"color":"#000"},{"offset":0.76,"color":"transparent"},{"offset":0.761,"color":"transparent"},{"offset":0.762,"color":"#000"},{"offset":0.763,"color":"transparent"},{"offset":0.764,"color":"transparent"},{"offset":0.765,"color":"#000"},{"offset":0.766,"color":"transparent"},{"offset":0.767,"color":"transparent"},{"offset":0.768,"color":"#000"},{"offset":0.769,"color":"transparent"},{"offset":0.77,"color":"transparent"},{"offset":0.771,"color":"#000"},{"offset":0.772,"color":"transparent"},{"offset":0.773,"color":"transparent"},{"offset":0.774,"color":"#000"},{"offset":0.775,"color":"transparent"},{"offset":0.776,"color":"transparent"},{"offset":0.777,"color":"#000"},{"offset":0.778,"color":"transparent"},{"offset":0.779,"color":"transparent"},
{"offset":0.78,"color":"#000"},{"offset":0.781,"color":"transparent"},{"offset":0.782,"color":"transparent"},{"offset":0.783,"color":"#000"},{"offset":0.784,"color":"transparent"},{"offset":0.785,"color":"transparent"},{"offset":0.786,"color":"#000"},{"offset":0.787,"color":"transparent"},{"offset":0.788,"color":"transparent"},{"offset":0.789,"color":"#000"},{"offset":0.79,"color":"transparent"},{"offset":0.791,"color":"transparent"},{"offset":0.792,"color":"#000"},{"offset":0.793,"color":"transparent"},{"offset":0.794,"color":"transparent"},{"offset":0.795,"color":"#000"},{"offset":0.796,"color":"transparent"},{"offset":0.797,"color":"transparent"},{"offset":0.798,"color":"#000"},{"offset":0.799,"color":"transparent"},{"offset":0.8,"color":"transparent"},{"offset":0.801,"color":"#000"},{"offset":0.802,"color":"transparent"},{"offset":0.803,"color":"transparent"},{"offset":0.804,"color":"#000"},{"offset":0.805,"color":"transparent"},{"offset":0.806,"color":"transparent"},{"offset":0.807,"color":"#000"},{"offset":0.808,"color":"transparent"},{"offset":0.809,"color":"transparent"},
{"offset":0.81,"color":"#000"},{"offset":0.811,"color":"transparent"},{"offset":0.812,"color":"transparent"},{"offset":0.813,"color":"#000"},{"offset":0.814,"color":"transparent"},{"offset":0.815,"color":"transparent"},{"offset":0.816,"color":"#000"},{"offset":0.817,"color":"transparent"},{"offset":0.818,"color":"transparent"},{"offset":0.819,"color":"#000"},{"offset":0.82,"color":"transparent"},{"offset":0.821,"color":"transparent"},{"offset":0.822,"color":"#000"},{"offset":0.823,"color":"transparent"},{"offset":0.824,"color":"transparent"},{"offset":0.825,"color":"#000"},{"offset":0.826,"color":"transparent"},{"offset":0.827,"color":"transparent"},{"offset":0.828,"color":"#000"},{"offset":0.829,"color":"transparent"},{"offset":0.83,"color":"transparent"},{"offset":0.831,"color":"#000"},{"offset":0.832,"color":"transparent"},{"offset":0.833,"color":"transparent"},{"offset":0.834,"color":"#000"},{"offset":0.835,"color":"transparent"},{"offset":0.836,"color":"transparent"},{"offset":0.837,"color":"#000"},{"offset":0.838,"color":"transparent"},{"offset":0.839,"color":"transparent"},
{"offset":0.84,"color":"#000"},{"offset":0.841,"color":"transparent"},{"offset":0.842,"color":"transparent"},{"offset":0.843,"color":"#000"},{"offset":0.844,"color":"transparent"},{"offset":0.845,"color":"transparent"},{"offset":0.846,"color":"#000"},{"offset":0.847,"color":"transparent"},{"offset":0.848,"color":"transparent"},{"offset":0.849,"color":"#000"},{"offset":0.85,"color":"transparent"},{"offset":0.851,"color":"transparent"},{"offset":0.852,"color":"#000"},{"offset":0.853,"color":"transparent"},{"offset":0.854,"color":"transparent"},{"offset":0.855,"color":"#000"},{"offset":0.856,"color":"transparent"},{"offset":0.857,"color":"transparent"},{"offset":0.858,"color":"#000"},{"offset":0.859,"color":"transparent"},{"offset":0.86,"color":"transparent"},{"offset":0.861,"color":"#000"},{"offset":0.862,"color":"transparent"},{"offset":0.863,"color":"transparent"},{"offset":0.864,"color":"#000"},{"offset":0.865,"color":"transparent"},{"offset":0.866,"color":"transparent"},{"offset":0.867,"color":"#000"},{"offset":0.868,"color":"transparent"},{"offset":0.869,"color":"transparent"},
{"offset":0.87,"color":"#000"},{"offset":0.871,"color":"transparent"},{"offset":0.872,"color":"transparent"},{"offset":0.873,"color":"#000"},{"offset":0.874,"color":"transparent"},{"offset":0.875,"color":"transparent"},{"offset":0.876,"color":"#000"}
]}},
 "encoding":{"x":{"field":"wl","type":"quantitative"},"y":{"field":"irr","type":"quantitative","stack":null}}},
{"data":{"values":[{"g":500},{"g":700},{"g":900},{"g":1100},{"g":1300},{"g":1500},{"g":1700},{"g":1900},{"g":2100},{"g":2300},{"g":2500}]},"mark":{"type":"rule","color":"#111","strokeWidth":1.3},
 "encoding":{"x":{"field":"g","type":"quantitative"},"y":{"datum":0,"type":"quantitative"},"y2":{"datum":2}}},
{"data":{"values":[{"h":0.2},{"h":0.4},{"h":0.6},{"h":0.8},{"h":1.0},{"h":1.2},{"h":1.4},{"h":1.6},{"h":1.8},{"h":2.0}]},"mark":{"type":"rule","color":"#111","strokeWidth":1.3},
 "encoding":{"y":{"field":"h","type":"quantitative"},"x":{"datum":300,"type":"quantitative"},"x2":{"datum":2500}}},
{"data":{"values":[{}]},"mark":{"type":"rule","color":"#111","strokeWidth":1.3},
 "encoding":{"x":{"datum":400,"type":"quantitative"},"y":{"datum":0,"type":"quantitative"},"y2":{"datum":0.78}}},
{"data":{"name":"spec"},"mark":{"type":"line","color":"#ff0000","strokeWidth":1.4},
 "encoding":{"x":{"field":"wl","type":"quantitative"},"y":{"field":"irr","type":"quantitative","stack":null}}},
{"data":{"values":[{}]},"mark":{"type":"rule","color":"#111","strokeWidth":1.3},
 "encoding":{"x":{"datum":300,"type":"quantitative"},"y":{"datum":0,"type":"quantitative"},"y2":{"datum":2.279}}},
{"data":{"values":[{}]},"mark":{"type":"rule","color":"#111","strokeWidth":1.3},
 "encoding":{"y":{"datum":0,"type":"quantitative"},"x":{"datum":300,"type":"quantitative"},"x2":{"datum":2618}}},
{"data":{"values":[{}]},"mark":{"type":"rule","color":"#111","strokeWidth":1.3},
 "encoding":{"y":{"datum":2.215,"type":"quantitative"},"x":{"datum":300,"type":"quantitative"},"x2":{"datum":2500}}},
{"data":{"values":[{}]},"mark":{"type":"point","shape":"M-0.27,1L0,0L0.27,1","size":1600,"filled":false,"color":"#111","strokeWidth":1,"opacity":1},
 "encoding":{"x":{"datum":300,"type":"quantitative"},"y":{"datum":2.279,"type":"quantitative"}}},
{"data":{"values":[{}]},"mark":{"type":"point","shape":"M-1,-0.27L0,0L-1,0.27","size":1600,"filled":false,"color":"#111","strokeWidth":1,"opacity":1},
 "encoding":{"x":{"datum":2500,"type":"quantitative"},"y":{"datum":2.215,"type":"quantitative"}}},
{"data":{"values":[{}]},"mark":{"type":"point","shape":"M-1,-0.27L0,0L-1,0.27","size":1600,"filled":false,"color":"#111","strokeWidth":1,"opacity":1},
 "encoding":{"x":{"datum":2618,"type":"quantitative"},"y":{"datum":0,"type":"quantitative"}}},
{"data":{"values":[{}]},"mark":{"type":"text","text":"UV","font":"Open Sans","fontSize":17.5,"fontWeight":"bold","color":"#1a1a1a","baseline":"alphabetic","align":"center"},
 "encoding":{"x":{"datum":342.5,"type":"quantitative"},"y":{"datum":2.236,"type":"quantitative"}}},
{"data":{"values":[{}]},"mark":{"type":"text","text":"Visible range","font":"Open Sans","fontSize":17.5,"fontWeight":"bold","color":"#1a1a1a","baseline":"alphabetic","align":"center"},
 "encoding":{"x":{"datum":610.7,"type":"quantitative"},"y":{"datum":2.236,"type":"quantitative"}}},
{"data":{"values":[{}]},"mark":{"type":"text","text":"Infrared range","font":"Open Sans","fontSize":17.5,"fontWeight":"bold","color":"#1a1a1a","baseline":"alphabetic","align":"center"},
 "encoding":{"x":{"datum":1571,"type":"quantitative"},"y":{"datum":2.236,"type":"quantitative"}}}
]
}
